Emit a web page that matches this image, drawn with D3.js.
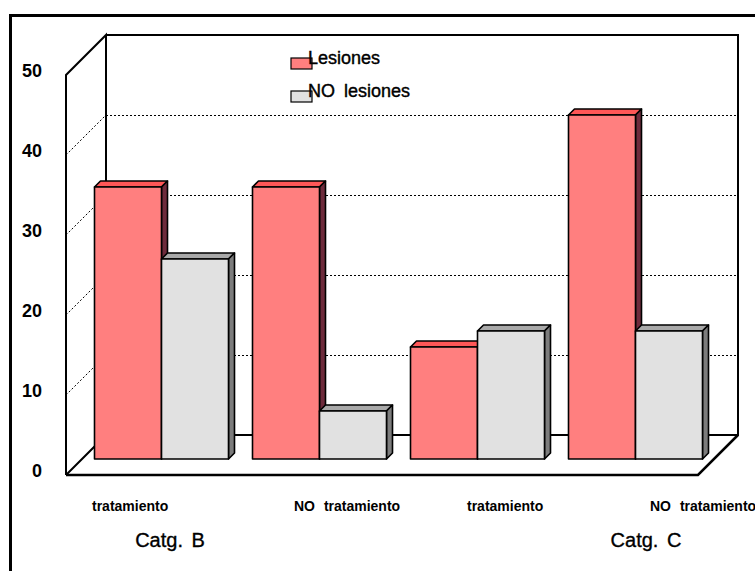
<!DOCTYPE html>
<html>
<head>
<meta charset="utf-8">
<script src="https://cdn.jsdelivr.net/npm/d3@7"></script>
<style>
  html, body { margin: 0; padding: 0; background: #fff; }
  svg { display: block; font-family: "Liberation Sans", Arial, sans-serif; }
</style>
</head>
<body>
<svg id="chart" width="755" height="571"></svg>
<script>
// Data
const categories = ["tratamiento", "NO tratamiento", "tratamiento", "NO tratamiento"];
const groupLabels = ["Catg. B", "Catg. C"];
const seriesNames = ["Lesiones", "NO lesiones"];
const lesiones = [34, 34, 14, 43];
const noLesiones = [25, 6, 16, 16];
const yTicks = [0, 10, 20, 30, 40, 50];

const seriesValues = [lesiones, noLesiones];
const palette = [
  { front: "#FF7F7F", top: "#FF5757", side: "#6E2B3C" },
  { front: "#E1E1E1", top: "#A9A9A9", side: "#7C7C7C" }
];

const svg = d3.select("#chart");

// Oblique projection: depth z shifts a point right and up by z pixels
const DEPTH = 40;
const P = (x, y, z) => [x + z, y - z];

const x = d3.scaleBand().domain(d3.range(categories.length)).range([66, 698]).padding(0);
const xSub = d3.scaleBand().domain(d3.range(seriesNames.length)).range([12.5, 146.5]).padding(0);
const y = d3.scaleLinear().domain([0, 50]).range([475, 75]);

const line = d3.line();

// Outer frame
svg.append("path").attr("d", "M10.5,575 L10.5,15.5 L760,15.5")
  .attr("fill", "none").attr("stroke", "#000").attr("stroke-width", 3);

const walls = svg.append("g");
const xLeft = x.range()[0], xRight = x.range()[1];

// Dotted gridlines on the side and back walls
yTicks.filter(t => t > 0 && t < 50).forEach(t => {
  walls.append("path")
    .attr("d", line([P(xLeft, y(t), 0), P(xLeft, y(t), DEPTH)]))
    .attr("fill", "none").attr("stroke", "#000").attr("stroke-width", 1)
    .attr("stroke-dasharray", "2,2");
  walls.append("path")
    .attr("d", line([P(xLeft, y(t) + 0.5, DEPTH), P(xRight, y(t) + 0.5, DEPTH)]))
    .attr("fill", "none").attr("stroke", "#000").attr("stroke-width", 1)
    .attr("stroke-dasharray", "2,2").attr("shape-rendering", "crispEdges");
});

// Wall and floor outlines
const yTop = y(50), yBase = y(0);
const outline = [
  [P(xLeft, yBase, 0), P(xLeft, yTop, 0), P(xLeft, yTop, DEPTH), P(xLeft, yBase, DEPTH), P(xLeft, yBase, 0)],
  [P(xLeft, yTop, DEPTH), P(xRight, yTop, DEPTH), P(xRight, yBase, DEPTH), P(xLeft, yBase, DEPTH)],
];
outline.forEach(pts => walls.append("path").attr("d", line(pts))
  .attr("fill", "none").attr("stroke", "#000").attr("stroke-width", 2)
  .attr("stroke-linejoin", "miter"));
walls.append("path")
  .attr("d", line([P(xLeft, yBase, 0), P(xRight, yBase, 0), P(xRight, yBase, DEPTH)]))
  .attr("fill", "none").attr("stroke", "#000").attr("stroke-width", 2.5);

// Y axis tick labels
svg.append("g").selectAll("text").data(yTicks).join("text")
  .attr("x", 42).attr("y", d => y(d) + 2)
  .attr("text-anchor", "end")
  .attr("font-size", 18).attr("font-weight", "bold")
  .text(d => d);

// 3D bars
const zFront = 16, zBack = 22;
const bars = svg.append("g");
categories.forEach((c, i) => {
  seriesValues.forEach((vals, s) => {
    const v = vals[i];
    const xa = x(i) + xSub(s), xb = xa + xSub.bandwidth();
    const yv = y(v), y0 = y(0);
    const col = palette[s];
    const g = bars.append("g")
      .attr("stroke", "#000").attr("stroke-width", 1.6).attr("stroke-linejoin", "round");
    g.append("path")
      .attr("d", line([P(xa, yv, zFront), P(xa, yv, zBack), P(xb, yv, zBack), P(xb, yv, zFront)]) + "Z")
      .attr("fill", col.top);
    g.append("path")
      .attr("d", line([P(xb, yv, zFront), P(xb, yv, zBack), P(xb, y0, zBack), P(xb, y0, zFront)]) + "Z")
      .attr("fill", col.side);
    g.append("path")
      .attr("d", line([P(xa, yv, zFront), P(xb, yv, zFront), P(xb, y0, zFront), P(xa, y0, zFront)]) + "Z")
      .attr("fill", col.front);
  });
});

// Category labels (inner level)
const labelShift = [26, 70, 85, 110];
svg.append("g").selectAll("text").data(categories).join("text")
  .attr("x", (d, i) => x(i) + labelShift[i]).attr("y", 511)
  .attr("font-size", 14).attr("font-weight", "bold")
  .attr("word-spacing", 5)
  .text(d => d);

// Group labels (outer level)
const groupShift = [-54, 106];
svg.append("g").selectAll("text").data(groupLabels).join("text")
  .attr("x", (d, i) => (x(i * 2) + x(i * 2 + 1) + x.bandwidth()) / 2 + groupShift[i])
  .attr("y", 547)
  .attr("text-anchor", "middle")
  .attr("font-size", 20).attr("word-spacing", 3)
  .attr("stroke", "#000").attr("stroke-width", 0.35)
  .text(d => d);

// Legend
const legend = svg.append("g");
seriesNames.forEach((name, s) => {
  const ly = 58 + s * 33;
  legend.append("rect").attr("x", 291).attr("y", ly).attr("width", 21).attr("height", 11)
    .attr("fill", palette[s].front).attr("stroke", "#000").attr("stroke-width", 1.2);
  legend.append("text").attr("x", 308).attr("y", ly + 6)
    .attr("font-size", 18).attr("word-spacing", 4)
    .attr("stroke", "#000").attr("stroke-width", 0.4)
    .text(name);
});
</script>
</body>
</html>
